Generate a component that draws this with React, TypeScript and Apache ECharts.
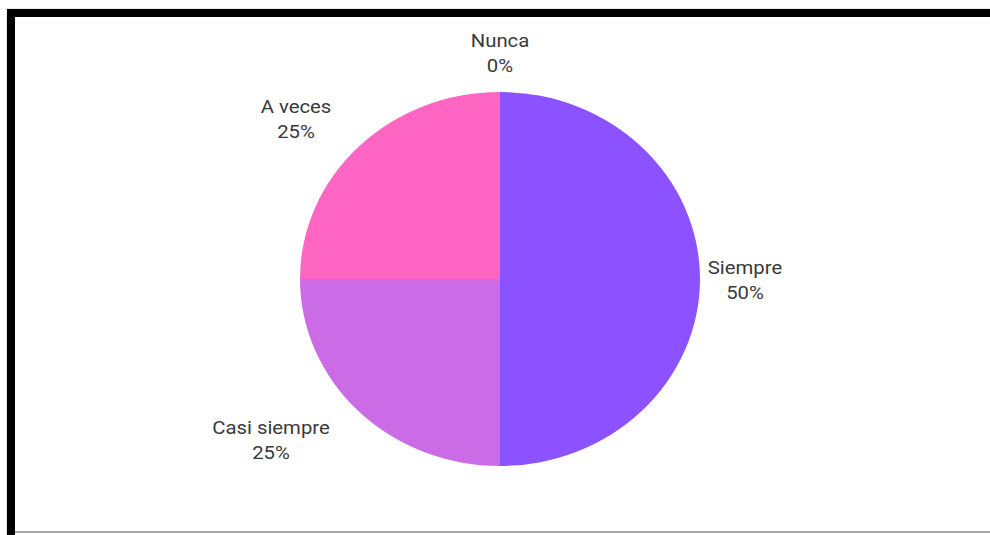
import React, { useEffect, useRef } from "react";
import * as echarts from "echarts";

const categories = ["Siempre", "Casi siempre", "A veces", "Nunca"];
const values = [50, 25, 25, 0];
const percentLabels = ["50%", "25%", "25%", "0%"];
const colors = ["#8C52FF", "#CB6CE6", "#FF66C4", "#5CE1E6"];

// label anchor (center of text block) in on-screen coordinates
const LABEL_ANCHORS: [number, number][] = [
  [745, 280],
  [271, 440],
  [296, 119],
  [500, 53],
];

const SX = 200 / 187; // horizontal stretch of the reference picture
const RENDER_W = 990 / SX;

export default function App() {
  const ref = useRef<HTMLDivElement>(null);
  useEffect(() => {
    if (!ref.current) return;
    const chart = echarts.init(ref.current, undefined, { renderer: "svg" });
    chart.setOption({
      animation: false,
      backgroundColor: "transparent",
      series: [
        {
          type: "pie",
          center: [500 / SX, 279],
          radius: 187,
          startAngle: 90,
          clockwise: true,
          avoidLabelOverlap: false,
          stillShowZeroSum: true,
          minShowLabelAngle: 0,
          itemStyle: { borderWidth: 0 },
          emphasis: { disabled: true },
          label: {
            show: true,
            position: "outside",
            formatter: (p: any) => `${p.name}\n${percentLabels[p.dataIndex]}`,
            color: "#3a3a3a",
            fontFamily: "Roboto",
            fontSize: 19,
            lineHeight: 25,
            align: "center",
          },
          labelLine: { show: false },
          labelLayout: (p: any) => {
            const a = LABEL_ANCHORS[p.dataIndex];
            return {
              x: a[0] / SX,
              y: a[1],
              align: "center",
              verticalAlign: "middle",
            };
          },
          data: categories.map((c, i) => ({
            name: c,
            value: values[i],
            itemStyle: { color: colors[i] },
          })),
        },
      ],
    });
    return () => chart.dispose();
  }, []);

  return (
    <div
      style={{
        position: "fixed",
        left: 0,
        top: 0,
        width: 990,
        height: 535,
        background: "#ffffff",
        overflow: "hidden",
      }}
    >
      <div
        ref={ref}
        style={{
          position: "absolute",
          left: 0,
          top: 0,
          width: RENDER_W,
          height: 535,
          transform: `scaleX(${SX})`,
          transformOrigin: "0 0",
        }}
      />
      {/* frame */}
      <div style={{ position: "absolute", left: 6, top: 8, width: 984, height: 1, background: "#e6e6e6" }} />
      <div style={{ position: "absolute", left: 6, top: 8, width: 1, height: 527, background: "#e6e6e6" }} />
      <div style={{ position: "absolute", left: 7, top: 9, width: 983, height: 8, background: "#000" }} />
      <div style={{ position: "absolute", left: 7, top: 9, width: 8, height: 526, background: "#000" }} />
      <div style={{ position: "absolute", left: 15, top: 531, width: 975, height: 2, background: "#a8a8a8" }} />
    </div>
  );
}
